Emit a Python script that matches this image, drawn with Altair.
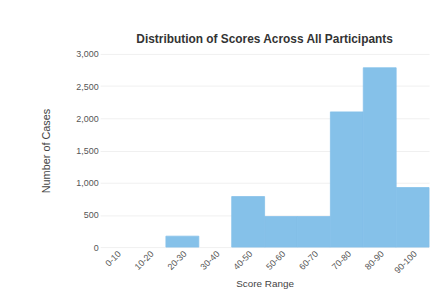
import altair as alt
import pandas as pd

categories = ["0-10", "10-20", "20-30", "30-40", "40-50", "50-60", "60-70", "70-80", "80-90", "90-100"]
counts = [0, 0, 170, 0, 785, 475, 475, 2100, 2785, 925]

df = pd.DataFrame({"range": categories, "count": counts})

chart = alt.Chart(df).transform_filter("datum.count > 0").mark_bar(
    color="#85c1e9", stroke="#85c1e9", strokeWidth=0.8, width={"band": 1}
).encode(
    x=alt.X("range:N", sort=categories, title="Score Range",
            scale=alt.Scale(domain=categories, paddingInner=0, paddingOuter=0),
            axis=alt.Axis(labelAngle=-45, domain=False, ticks=False, labelFontSize=9,
                          titleFontSize=10, titleFontWeight="normal", labelColor="#555", titleColor="#444")),
    y=alt.Y("count:Q", title="Number of Cases",
            scale=alt.Scale(domain=[0, 3000]),
            axis=alt.Axis(values=[0, 500, 1000, 1500, 2000, 2500, 3000], domain=False, ticks=False,
                          gridColor="#f0f0f0", labelFontSize=9, titleFontSize=11, titlePadding=25,
                          titleFontWeight="normal", labelColor="#555", titleColor="#444")),
).properties(
    width=332, height=195,
    padding={"left": 32, "top": 24, "right": 5, "bottom": 5},
    title=alt.TitleParams("Distribution of Scores Across All Participants", fontSize=12,
                          fontWeight="bold", color="#333"),
).configure_view(stroke=None)

chart.save("out.html", embed_options={"renderer": "svg", "actions": False})
